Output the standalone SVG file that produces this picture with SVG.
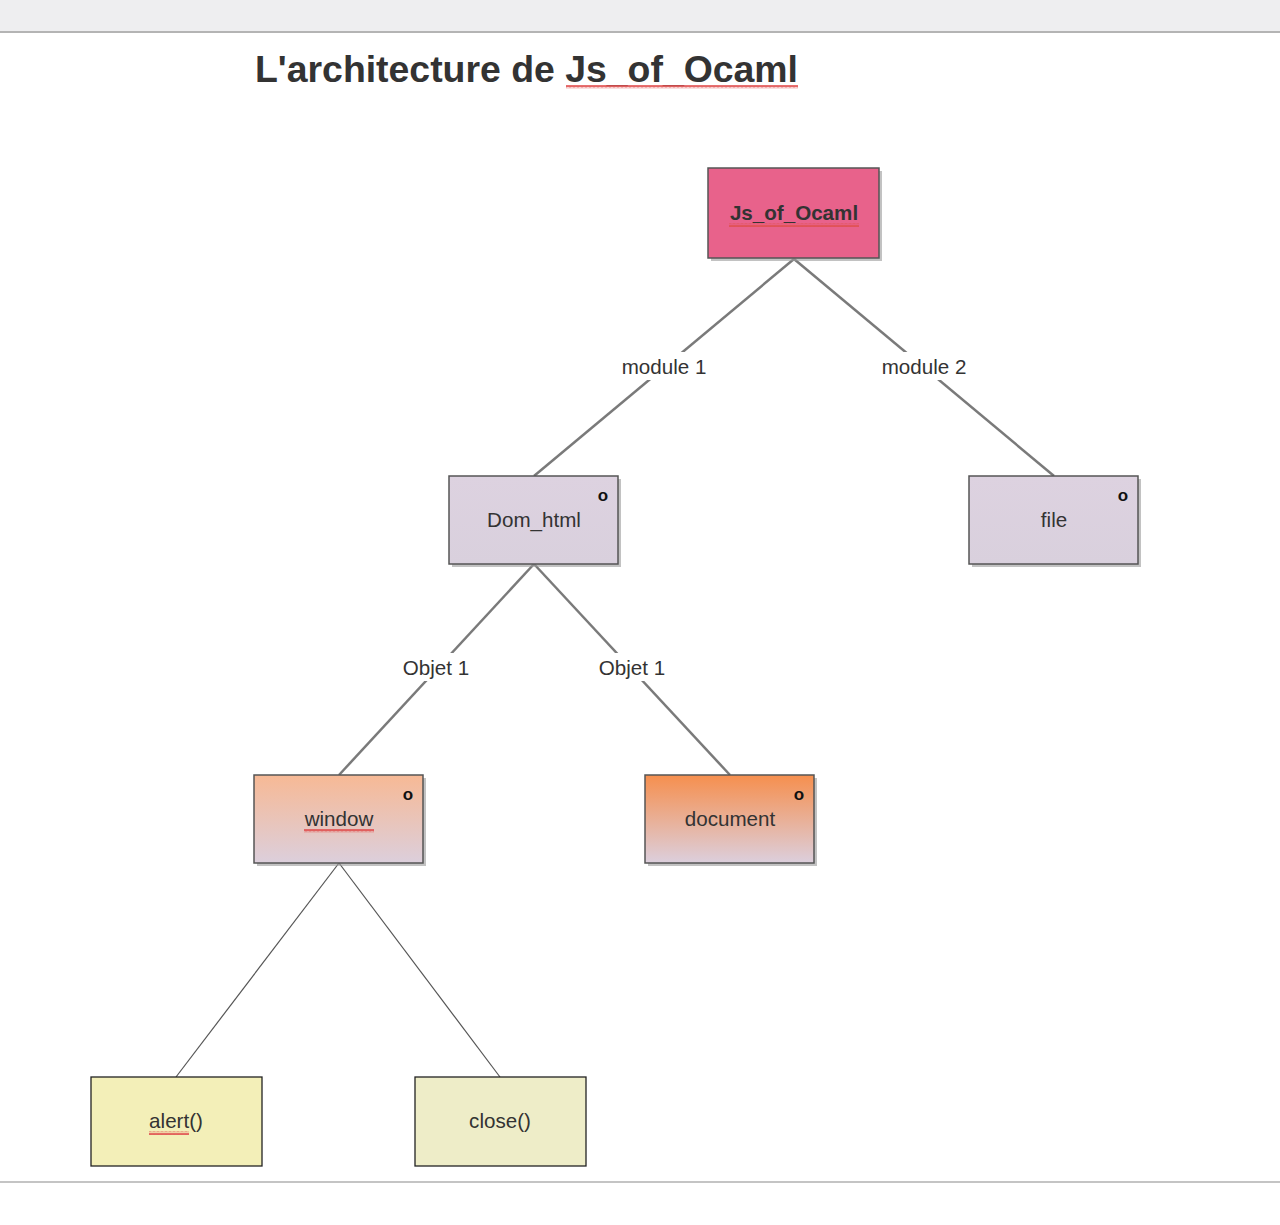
<svg xmlns="http://www.w3.org/2000/svg" width="1280" height="1225" viewBox="0 0 1280 1225">
<defs>
<style>
.lbl{font-family:"Liberation Sans",Arial,sans-serif;font-size:20.6px;fill:#333;text-anchor:middle}
.o{font-family:"Liberation Sans",Arial,sans-serif;font-size:17px;font-weight:bold;fill:#111;text-anchor:middle}
.conn{stroke:#7a7a7a;stroke-width:2.5;fill:none}
.thin{stroke:#555;stroke-width:1.2;fill:none}
.box{stroke:#555;stroke-width:1.5}
.shadow{fill:#9a9a9a;opacity:0.6}
.edgelbl{font-family:"Liberation Sans",Arial,sans-serif;font-size:20.6px;fill:#333;text-anchor:middle}
</style>
<linearGradient id="gWin" x1="0" y1="0" x2="0" y2="1">
<stop offset="0" stop-color="#f7b995"/>
<stop offset="1" stop-color="#dccfdc"/>
</linearGradient>
<linearGradient id="gDoc" x1="0" y1="0" x2="0" y2="1">
<stop offset="0" stop-color="#f68f4e"/>
<stop offset="1" stop-color="#dccfdd"/>
</linearGradient>
<linearGradient id="gLav" x1="0" y1="0" x2="0" y2="1">
<stop offset="0" stop-color="#ddd2e0"/>
<stop offset="1" stop-color="#d9d0dd"/>
</linearGradient>
<pattern id="wave" width="4" height="4" patternUnits="userSpaceOnUse">
<path d="M0,3.5 L1,0.8 L2,3.5 L3,0.8 L4,3.5" stroke="#e05050" stroke-width="1" fill="none"/>
</pattern>
</defs>
<rect x="0" y="0" width="1280" height="1225" fill="#ffffff"/>
<rect x="0" y="0" width="1280" height="31" fill="#eeeef0"/>
<rect x="0" y="31" width="1280" height="2" fill="#b4b4b4"/>
<rect x="0" y="1181" width="1280" height="2" fill="#c4c4c4"/>

<g id="title">
<text x="255" y="82" font-family="'Liberation Sans',Arial,sans-serif" font-size="36" font-weight="bold" fill="#333" textLength="543" lengthAdjust="spacingAndGlyphs">L'architecture de Js_of_Ocaml</text>
<rect x="566" y="85" width="232" height="4" fill="url(#wave)"/>
</g>

<g id="connectors">
<line class="conn" x1="794" y1="259" x2="534" y2="476"/>
<line class="conn" x1="794" y1="259" x2="1054" y2="476"/>
<line class="conn" x1="534" y1="564" x2="339" y2="775"/>
<line class="conn" x1="534" y1="564" x2="730" y2="775"/>
<line class="thin" x1="339" y1="863" x2="176" y2="1077"/>
<line class="thin" x1="339" y1="863" x2="500" y2="1077"/>
<rect x="614" y="352" width="100" height="28" fill="#fff"/>
<text class="edgelbl" x="664" y="374">module 1</text>
<rect x="874" y="352" width="100" height="28" fill="#fff"/>
<text class="edgelbl" x="924" y="374">module 2</text>
<rect x="396" y="653" width="80" height="28" fill="#fff"/>
<text class="edgelbl" x="436" y="675">Objet 1</text>
<rect x="592" y="653" width="80" height="28" fill="#fff"/>
<text class="edgelbl" x="632" y="675">Objet 1</text>
</g>

<g id="node-jsofocaml">
<rect class="shadow" x="711" y="171" width="171" height="90"/>
<rect class="box" x="708" y="168" width="171" height="90" fill="#e8628b"/>
<text class="lbl" x="794" y="220" font-weight="bold" fill="#3a2a33">Js_of_Ocaml</text>
<rect x="729" y="223" width="130" height="4" fill="url(#wave)"/>
</g>

<g id="node-domhtml">
<rect class="shadow" x="452" y="479" width="169" height="88"/>
<rect class="box" x="449" y="476" width="169" height="88" fill="url(#gLav)"/>
<text class="lbl" x="534" y="527">Dom_html</text>
<text class="o" x="603" y="501">o</text>
</g>

<g id="node-file">
<rect class="shadow" x="972" y="479" width="169" height="88"/>
<rect class="box" x="969" y="476" width="169" height="88" fill="url(#gLav)"/>
<text class="lbl" x="1054" y="527">file</text>
<text class="o" x="1123" y="501">o</text>
</g>

<g id="node-window">
<rect class="shadow" x="257" y="778" width="169" height="88"/>
<rect class="box" x="254" y="775" width="169" height="88" fill="url(#gWin)"/>
<text class="lbl" x="339" y="826">window</text>
<rect x="304" y="829" width="70" height="4" fill="url(#wave)"/>
<text class="o" x="408" y="800">o</text>
</g>

<g id="node-document">
<rect class="shadow" x="648" y="778" width="169" height="88"/>
<rect class="box" x="645" y="775" width="169" height="88" fill="url(#gDoc)"/>
<text class="lbl" x="730" y="826">document</text>
<text class="o" x="799" y="800">o</text>
</g>

<g id="node-alert">
<rect x="91" y="1077" width="171" height="89" fill="#f3efb8" stroke="#222" stroke-width="1.3"/>
<text class="lbl" x="176" y="1128" fill="#222">alert()</text>
<rect x="149" y="1131" width="40" height="4" fill="url(#wave)"/>
</g>

<g id="node-close">
<rect x="415" y="1077" width="171" height="89" fill="#eeedc8" stroke="#222" stroke-width="1.3"/>
<text class="lbl" x="500" y="1128" fill="#222">close()</text>
</g>
</svg>
